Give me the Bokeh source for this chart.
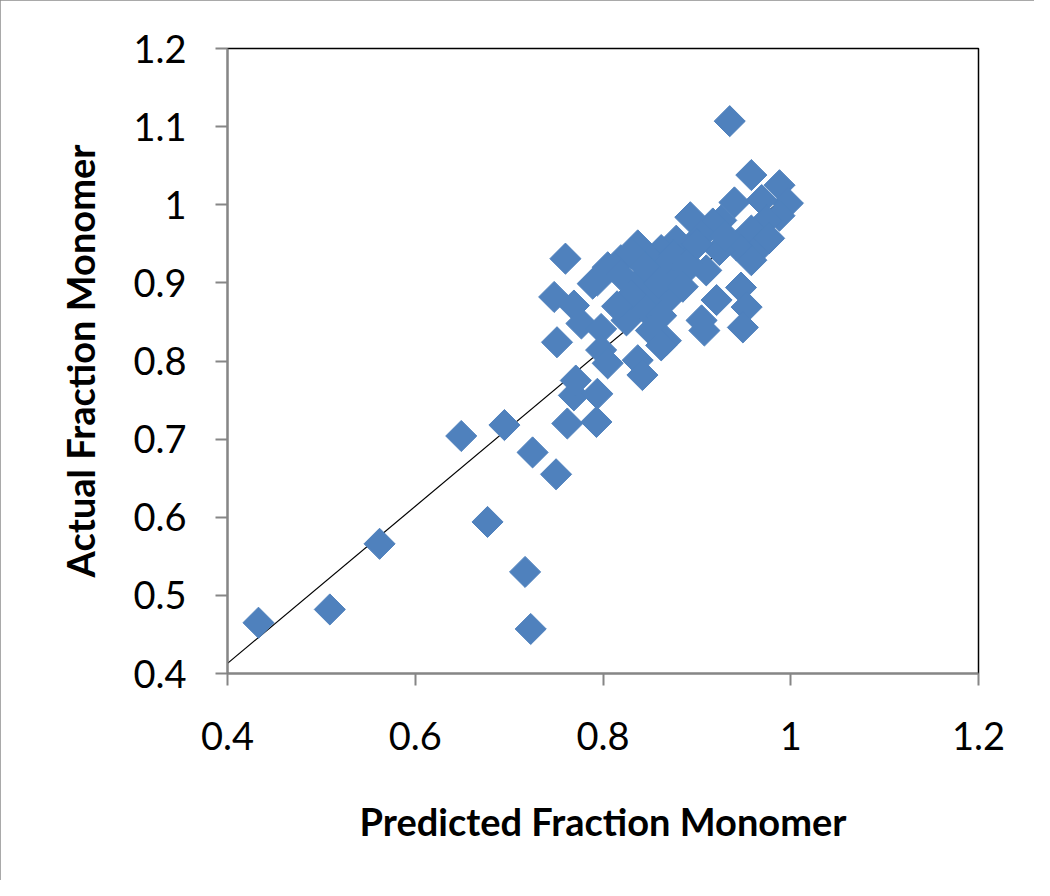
import math
from bokeh.plotting import figure
from bokeh.models import Range1d, FixedTicker, CustomJSTickFormatter
from bokeh.embed import file_html
from bokeh.resources import INLINE

# Data (predicted vs actual fraction monomer)
predicted = [
    0.935, 0.958, 0.988, 0.997, 0.940, 0.988, 0.969, 0.974, 0.958, 0.969,
    0.958, 0.942, 0.977, 0.926, 0.917, 0.893, 0.905, 0.924, 0.910, 0.894,
    0.878, 0.862, 0.837, 0.851, 0.867, 0.883, 0.819, 0.805, 0.789, 0.819,
    0.840, 0.857, 0.873, 0.830, 0.846, 0.862, 0.825, 0.851, 0.867, 0.830,
    0.794, 0.845, 0.875, 0.890, 0.930, 0.900, 0.815, 0.860, 0.885,
    0.921, 0.947, 0.953, 0.905, 0.949, 0.908,
    0.760, 0.748, 0.769, 0.777, 0.798, 0.751, 0.798, 0.805, 0.837, 0.842,
    0.862, 0.769, 0.771, 0.794, 0.762, 0.793,
    0.433, 0.509, 0.562, 0.649, 0.695, 0.725, 0.750, 0.677, 0.717, 0.723,
]
actual = [
    1.107, 1.038, 1.025, 1.002, 1.003, 0.986, 1.006, 0.980, 0.967, 0.948,
    0.929, 0.948, 0.957, 0.980, 0.976, 0.984, 0.961, 0.942, 0.916, 0.942,
    0.954, 0.942, 0.948, 0.929, 0.922, 0.910, 0.929, 0.920, 0.899, 0.910,
    0.903, 0.890, 0.884, 0.884, 0.865, 0.858, 0.852, 0.839, 0.826, 0.938,
    0.903, 0.920, 0.935, 0.925, 0.960, 0.950, 0.870, 0.900, 0.895,
    0.878, 0.894, 0.869, 0.852, 0.843, 0.839,
    0.931, 0.882, 0.871, 0.848, 0.841, 0.824, 0.814, 0.797, 0.801, 0.782,
    0.820, 0.756, 0.775, 0.758, 0.720, 0.722,
    0.465, 0.482, 0.566, 0.704, 0.718, 0.683, 0.655, 0.594, 0.530, 0.457,
]
fit_x = [0.4, 1.0]
fit_y = [0.413, 1.016]

x_ticks = [0.4, 0.6, 0.8, 1.0, 1.2]
y_ticks = [0.4, 0.5, 0.6, 0.7, 0.8, 0.9, 1.0, 1.1, 1.2]

FONT = "Lato"
GRAY = "#868686"

p = figure(width=1034, height=880, output_backend="svg", toolbar_location=None,
           x_range=Range1d(0.4, 1.2), y_range=Range1d(0.4, 1.2),
           min_border_left=227, min_border_top=48, min_border_right=56,
           min_border_bottom=207)
p.frame_width = 751
p.frame_height = 625
p.styles = {"outline": "3px solid #8c8c8c", "outline-offset": "-3px"}

p.grid.visible = False
p.outline_line_color = "black"
p.outline_line_width = 1.5

for ax, ticks in ((p.xaxis[0], x_ticks), (p.yaxis[0], y_ticks)):
    ax.ticker = FixedTicker(ticks=ticks)
    ax.formatter = CustomJSTickFormatter(code="return (Math.round(tick*10)/10).toString();")
    ax.axis_line_color = GRAY
    ax.axis_line_width = 2
    ax.major_tick_line_color = GRAY
    ax.major_tick_line_width = 2
    ax.major_tick_out = 12
    ax.major_tick_in = 0
    ax.minor_tick_line_color = None
    ax.major_label_text_font = FONT
    ax.major_label_text_font_size = "38px"
    ax.major_label_text_color = "black"
    ax.axis_label_text_font = FONT
    ax.axis_label_text_font_style = "bold"
    ax.axis_label_text_font_size = "38px"
    ax.axis_label_text_color = "black"

p.xaxis.axis_label = "Predicted Fraction Monomer"
p.yaxis.axis_label = "Actual Fraction Monomer"
p.xaxis.major_label_standoff = 36
p.yaxis.major_label_standoff = 29
p.xaxis.axis_label_standoff = 45
p.yaxis.axis_label_standoff = 27

p.line(fit_x, fit_y, line_color="black", line_width=1.2)
p.scatter(predicted, actual, marker="square", size=22, angle=math.pi / 4,
          fill_color="#4F81BD", line_color="#4F81BD", line_width=1)

open("out.html", "w").write(file_html(p, INLINE))
